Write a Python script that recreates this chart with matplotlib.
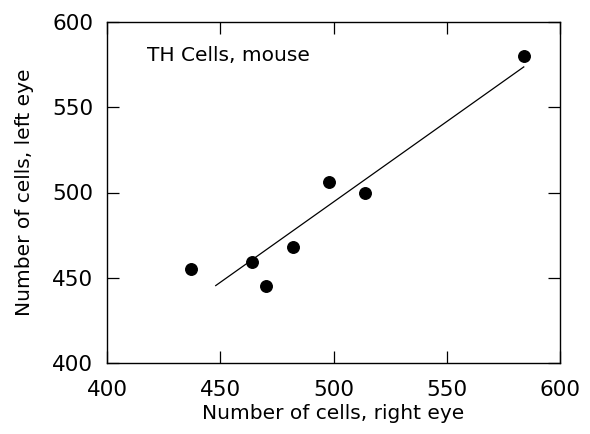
import matplotlib
matplotlib.use("Agg")
import matplotlib.pyplot as plt
import numpy as np

# cell counts
right_eye = [437, 464, 470, 482, 498, 514, 584]
left_eye = [455, 459, 445, 468, 506, 500, 580]
fit_range = [448, 584]

ticks = [400, 450, 500, 550, 600]

plt.rcParams['font.family'] = ['DejaVu Sans']

fig = plt.figure(figsize=(5.9, 4.34), dpi=100)
ax = fig.add_axes([107/590, 1 - 363/434, 453/590, 341/434])

# regression line
slope, icpt = np.polyfit(right_eye, left_eye, 1)
fx = np.array(fit_range)
ax.plot(fx, slope * fx + icpt, color='black', lw=0.9)

ax.plot(right_eye, left_eye, 'o', color='black', ms=8.3)

ax.set_xlim(400, 600)
ax.set_ylim(400, 600)
ax.set_xticks(ticks)
ax.set_yticks(ticks)
ax.tick_params(direction='in', length=8.5, width=0.9, labelsize=15.5,
               top=True, right=True)
ax.tick_params(axis='x', pad=12)
ax.tick_params(axis='y', pad=10)
for s in ax.spines.values():
    s.set_linewidth(1.0)

ax.text(417.5, 580.5, 'TH Cells, mouse', fontsize=14.5, va='center', ha='left')
ax.set_xlabel('Number of cells, right eye', fontsize=14.5, labelpad=3)
ax.set_ylabel('Number of cells, left eye', fontsize=14.5, labelpad=13)

fig.savefig('out.png', dpi=100)
